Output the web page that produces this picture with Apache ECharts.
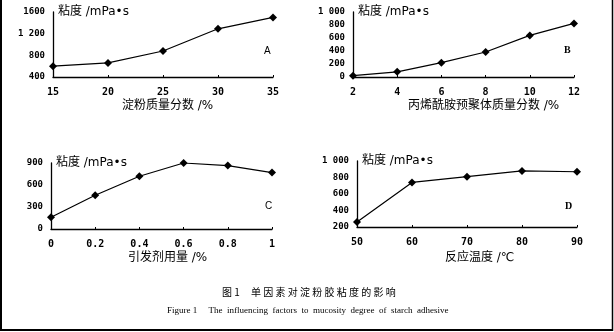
<!DOCTYPE html>
<html>
<head>
<meta charset="utf-8">
<script src="https://cdn.jsdelivr.net/npm/echarts@6/dist/echarts.min.js"></script>
<style>
html,body{margin:0;padding:0;background:#fff;}
#chart{width:614px;height:332px;}
</style>
</head>
<body>
<div id="chart"></div>
<script>
// Panel A: starch mass fraction vs viscosity
var starchPct = [15, 20, 25, 30, 35];
var viscA = [600, 660, 880, 1290, 1500];
var yTicksA = {400: '400', 800: '800', 1200: '1 200', 1600: '1600'};

// Panel B: acrylamide prepolymer mass fraction vs viscosity
var prepolyPct = [2, 4, 6, 8, 10, 12];
var viscB = [20, 80, 220, 385, 640, 825];
var yTicksB = {0: '0', 200: '200', 400: '400', 600: '600', 800: '800', 1000: '1 000'};

// Panel C: initiator dosage vs viscosity
var initiatorPct = [0, 0.2, 0.4, 0.6, 0.8, 1];
var viscC = [160, 460, 720, 900, 865, 770];

// Panel D: reaction temperature vs viscosity
var tempC = [50, 60, 70, 80, 90];
var viscD = [260, 740, 810, 880, 870];
var yTicksD = {200: '200', 400: '400', 600: '600', 800: '800', 1000: '1 000'};

var xNames = ['淀粉质量分数 /%', '丙烯酰胺预聚体质量分数 /%', '引发剂用量 /%', '反应温度 /℃'];
var yName = '粘度 /mPa•s';
var panelTags = ['A', 'B', 'C', 'D'];

var numFont = '"DejaVu Sans Mono", monospace';
var cjkFont = '"DejaVu Sans", "Noto Sans CJK SC", sans-serif';

function pairs(xs, ys) { return xs.map(function (x, i) { return [x, ys[i]]; }); }

var grids = [
  {left: 53, top: 12, width: 220, height: 65},
  {left: 353, top: 12, width: 221, height: 65},
  {left: 51, top: 163, width: 221, height: 66},
  {left: 357, top: 161, width: 220, height: 66}
];

var xCfg = [
  {min: 15, max: 35, interval: 5, fmt: function (v) { return String(v); }},
  {min: 2, max: 12, interval: 2, fmt: function (v) { return String(v); }},
  {min: 0, max: 1, interval: 0.2, fmt: function (v) { return String(+v.toFixed(1)); }},
  {min: 50, max: 90, interval: 10, fmt: function (v) { return String(v); }}
];
var yCfg = [
  {min: 400, max: 1600, interval: 400, fmt: function (v) { return yTicksA[v] || String(v); }},
  {min: 0, max: 1000, interval: 200, fmt: function (v) { return yTicksB[v] || String(v); }},
  {min: 0, max: 900, interval: 300, fmt: function (v) { return String(v); }},
  {min: 200, max: 1000, interval: 200, fmt: function (v) { return yTicksD[v] || String(v); }}
];
var xLabelMargin = [10, 10, 10, 10];

var series = [
  pairs(starchPct, viscA),
  pairs(prepolyPct, viscB),
  pairs(initiatorPct, viscC),
  pairs(tempC, viscD)
];

var axisLine = {show: true, lineStyle: {color: '#000', width: 1.3}};

var option = {
  backgroundColor: '#fff',
  animation: false,
  grid: grids,
  xAxis: xCfg.map(function (c, i) {
    return {
      type: 'value', gridIndex: i, min: c.min, max: c.max, interval: c.interval,
      axisLine: axisLine,
      axisTick: {show: true, inside: true, length: 2, lineStyle: {color: '#000'}},
      splitLine: {show: false},
      axisLabel: {formatter: c.fmt, color: '#000', fontFamily: numFont, fontWeight: 'bold', fontSize: 10, margin: xLabelMargin[i]}
    };
  }),
  yAxis: yCfg.map(function (c, i) {
    return {
      type: 'value', gridIndex: i, min: c.min, max: c.max, interval: c.interval,
      axisLine: axisLine,
      axisTick: {show: false},
      splitLine: {show: false},
      name: yName, nameLocation: 'end', nameGap: 0,
      nameTextStyle: {color: '#000', fontFamily: cjkFont, fontSize: 12, align: 'left', verticalAlign: 'middle', padding: [0, 0, 0, 5]},
      axisLabel: {formatter: c.fmt, color: '#000', fontFamily: numFont, fontWeight: 'bold', fontSize: 9, margin: 8}
    };
  }),
  series: series.map(function (d, i) {
    return {
      type: 'line', xAxisIndex: i, yAxisIndex: i, data: d,
      symbol: 'diamond', symbolSize: 8,
      lineStyle: {color: '#000', width: 1.2},
      itemStyle: {color: '#000'}
    };
  }),
  graphic: [
    // x-axis titles
    {type: 'text', left: 122, top: 100, style: {text: xNames[0], font: '12px ' + cjkFont, fill: '#000'}},
    {type: 'text', left: 408, top: 100, style: {text: xNames[1], font: '12px ' + cjkFont, fill: '#000'}},
    {type: 'text', left: 128, top: 252, style: {text: xNames[2], font: '12px ' + cjkFont, fill: '#000'}},
    {type: 'text', left: 445, top: 252, style: {text: xNames[3], font: '12px ' + cjkFont, fill: '#000'}},
    // panel tags
    {type: 'text', left: 264, top: 46, style: {text: panelTags[0], font: '10px "Liberation Sans", sans-serif', fill: '#000'}},
    {type: 'text', left: 564, top: 45, style: {text: panelTags[1], font: 'bold 10px "Liberation Serif", serif', fill: '#000'}},
    {type: 'text', left: 265, top: 201, style: {text: panelTags[2], font: '10px "Liberation Sans", sans-serif', fill: '#000'}},
    {type: 'text', left: 565, top: 201, style: {text: panelTags[3], font: 'bold 10px "Liberation Serif", serif', fill: '#000'}},
    // captions
    {type: 'text', left: 222, top: 287, style: {text: '图 1     单 因 素 对 淀 粉 胶 粘 度 的 影 响', font: '10px "Noto Sans CJK SC", sans-serif', fill: '#000'}},
    {type: 'text', left: 167, top: 306, style: {text: 'Figure 1     The  influencing  factors  to  mucosity  degree  of  starch  adhesive', font: '9px "Liberation Serif", serif', fill: '#000'}},
    // page frame
    {type: 'line', shape: {x1: 1, y1: 0, x2: 1, y2: 331}, style: {stroke: '#000', lineWidth: 2}},
    {type: 'line', shape: {x1: 0, y1: 330, x2: 613, y2: 330}, style: {stroke: '#000', lineWidth: 2}},
    {type: 'line', shape: {x1: 612.5, y1: 0, x2: 612.5, y2: 331}, style: {stroke: '#000', lineWidth: 1.5}}
  ]
};

var chart = echarts.init(document.getElementById('chart'), null, {renderer: 'canvas'});
chart.setOption(option);
</script>
</body>
</html>
